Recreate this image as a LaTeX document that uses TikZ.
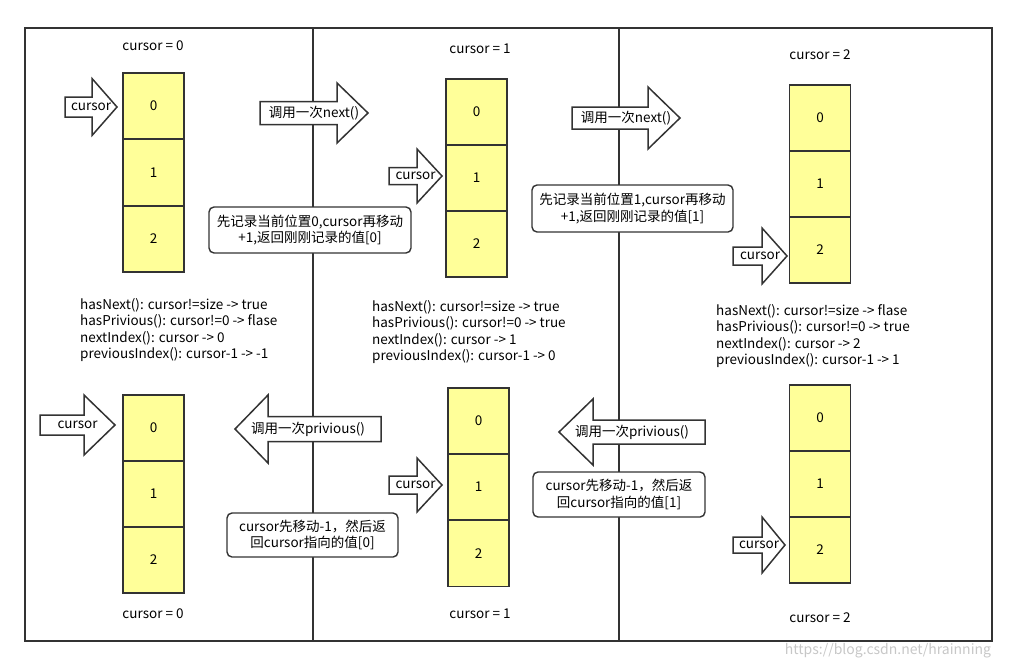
\documentclass[tikz,border=0pt]{standalone}
\usepackage{fontspec}
\setmainfont{Noto Sans CJK SC}
\definecolor{lc}{HTML}{333333}
\definecolor{cellyellow}{HTML}{FFFF99}
\newcommand\fs{\fontsize{13.5}{16.2}\selectfont}
% name, x0, xb, xt, yc, half body, half head, text
\newcommand\blockarrow[8]{%
  \draw[arrowshape] (#2,{#5-#6}) -- (#3,{#5-#6}) -- (#3,{#5-#7}) -- (#4,#5) -- (#3,{#5+#7}) -- (#3,{#5+#6}) -- (#2,{#5+#6}) -- cycle;
  \node[atext] (#1) at ({(#2+#4)/2},#5) {#8};}
\begin{document}
\begin{tikzpicture}[x=1pt,y=-1pt,
  frameline/.style={draw=lc, line width=1.8pt},
  cell/.style={draw=lc, line width=1.8pt, fill=cellyellow, minimum width=61pt, minimum height=66pt, inner sep=0pt, font=\fs},
  arrowshape/.style={draw=lc, line width=1.5pt, fill=white, line join=miter},
  atext/.style={inner sep=0pt, font=\fs},
  note/.style={draw=lc, line width=1.4pt, fill=white, rounded corners=5pt, align=center, inner sep=0pt, font=\fs},
  lbl/.style={inner sep=0pt, font=\fs},
  info/.style={inner sep=0pt, align=left, anchor=west, font=\fs}]
\useasboundingbox (0,0) rectangle (1017,667);
% frame and dividers
\draw[frameline] (25,28) rectangle (992,641);
\draw[frameline] (313,28) -- (313,641);
\draw[frameline] (619,28) -- (619,641);
% column 1 top
\node[lbl] (c1t) at (153,46) {cursor = 0};
\node[cell] (a0) at (153.5,106) {0};
\node[cell] (a1) at (153.5,172.5) {1};
\node[cell] (a2) at (153.5,239) {2};
\blockarrow{cur1}{65}{92}{117}{107}{10}{28.5}{cursor}
\blockarrow{next1}{260}{337}{368}{113}{11.5}{30}{调用一次next()}
\node[note, minimum width=202pt, minimum height=46pt] (n1) at (310,230) {先记录当前位置0,cursor再移动\\+1,返回刚刚记录的值[0]};
\node[info] (i1) at (80,330) {hasNext(): cursor!=size -> true\\hasPrivious(): cursor!=0 -> flase\\nextIndex(): cursor -> 0\\previousIndex(): cursor-1 -> -1};
% column 1 bottom
\node[cell] (b0) at (153.5,428) {0};
\node[cell] (b1) at (153.5,494) {1};
\node[cell] (b2) at (153.5,560) {2};
\node[lbl] (c1b) at (153,614) {cursor = 0};
\blockarrow{cur2}{40}{84}{115}{425}{10}{30}{cursor}
\blockarrow{prev1}{381}{268}{235}{429}{12.5}{34}{调用一次privious()}
\node[note, minimum width=171pt, minimum height=44pt] (n3) at (312.5,535) {cursor先移动-1，然后返\\回cursor指向的值[0]};
% column 2 top
\node[lbl] (c2t) at (480,49) {cursor = 1};
\node[cell] (c0) at (476.5,112) {0};
\node[cell] (c1) at (476.5,178) {1};
\node[cell] (c2) at (476.5,244) {2};
\blockarrow{cur3}{389}{417}{442}{176}{8.5}{27}{cursor}
\blockarrow{next2}{572}{648}{680}{118}{11}{31}{调用一次next()}
\node[note, minimum width=201pt, minimum height=47pt] (n2) at (632.5,208.5) {先记录当前位置1,cursor再移动\\+1,返回刚刚记录的值[1]};
\node[info] (i2) at (372,332) {hasNext(): cursor!=size -> true\\hasPrivious(): cursor!=0 -> true\\nextIndex(): cursor -> 1\\previousIndex(): cursor-1 -> 0};
% column 2 bottom
\node[cell] (d0) at (478.5,421) {0};
\node[cell] (d1) at (478.5,487) {1};
\node[cell] (d2) at (478.5,553.5) {2};
\node[lbl] (c2b) at (480,614) {cursor = 1};
\blockarrow{cur4}{389}{417}{442}{485}{9}{27}{cursor}
\blockarrow{prev2}{705}{593}{559}{432}{12}{33}{调用一次privious()}
\node[note, minimum width=172pt, minimum height=45pt] (n4) at (619,494.5) {cursor先移动-1，然后返\\回cursor指向的值[1]};
% column 3 top
\node[lbl] (c3t) at (820,55) {cursor = 2};
\node[cell] (e0) at (820,118) {0};
\node[cell] (e1) at (820,184) {1};
\node[cell] (e2) at (820,250) {2};
\blockarrow{cur5}{733}{762}{787}{256}{9}{28}{cursor}
\node[info] (i3) at (716,336) {hasNext(): cursor!=size -> flase\\hasPrivious(): cursor!=0 -> true\\nextIndex(): cursor -> 2\\previousIndex(): cursor-1 -> 1};
% column 3 bottom
\node[cell] (f0) at (820,418) {0};
\node[cell] (f1) at (820,484) {1};
\node[cell] (f2) at (820,550) {2};
\node[lbl] (c3b) at (820,618) {cursor = 2};
\blockarrow{cur6}{733}{762}{785}{545}{8}{28}{cursor}
% watermark
\node[inner sep=0pt, font=\fontsize{14}{16}\selectfont, text=black!22] (wm) at (888,651) {https://blog.csdn.net/hrainning};
\end{tikzpicture}
\end{document}
